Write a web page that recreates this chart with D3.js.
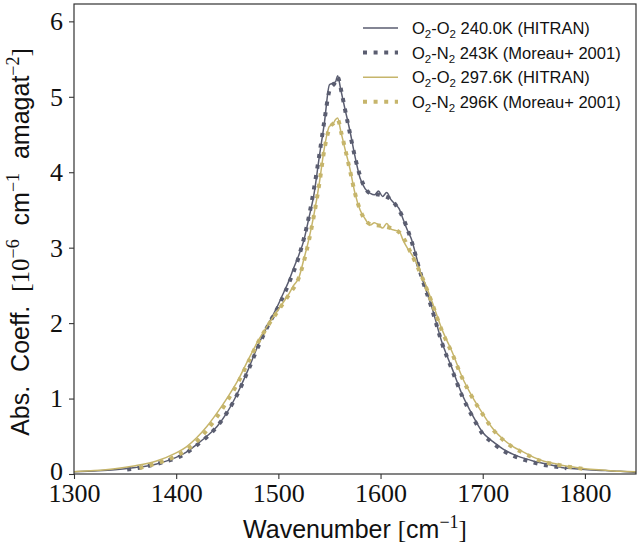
<!DOCTYPE html>
<html lang="en">
<head>
    <meta charset="UTF-8">
    <title>O2 CIA fundamental band</title>
    <script src="https://d3js.org/d3.v7.min.js"></script>
    <style>
        body { margin: 0; background: #fff; }
        .tick text { font-family: "Liberation Serif", serif; font-size: 26px; fill: #111; }
        .tick line { stroke: #333; stroke-width: 1.1; }
        .lbl { font-family: "Liberation Sans", sans-serif; font-size: 25px; fill: #111; }
        .leg { font-family: "Liberation Sans", sans-serif; font-size: 16.5px; fill: #111; }
    </style>
</head>
<body>
    <svg width="638" height="544"></svg>
    <script>
        // HITRAN grid (cm^-1), shared by both HITRAN curves
        const hitranWn = [1300, 1320, 1340, 1360, 1380, 1400, 1410, 1420, 1430, 1440, 1450, 1460, 1470, 1480, 1490,
            1500, 1505, 1510, 1515, 1520, 1525, 1530, 1535, 1540, 1545, 1550, 1553, 1556, 1558, 1561, 1565, 1570,
            1575, 1580, 1585, 1590, 1594, 1598, 1602, 1606, 1610, 1614, 1618, 1622, 1626, 1630, 1635, 1640, 1645,
            1650, 1660, 1670, 1680, 1690, 1700, 1710, 1720, 1730, 1740, 1750, 1760, 1770, 1780, 1790, 1800, 1820,
            1835, 1850];
        const hitran240 = [0.03, 0.04, 0.055, 0.085, 0.13, 0.22, 0.29, 0.39, 0.50, 0.63, 0.82, 1.07, 1.37, 1.70, 1.98,
            2.25, 2.40, 2.55, 2.73, 2.90, 3.10, 3.40, 3.72, 4.20, 4.65, 5.16, 5.18, 5.20, 5.28, 5.10, 4.85, 4.55,
            4.21, 3.92, 3.78, 3.72, 3.70, 3.75, 3.68, 3.73, 3.64, 3.58, 3.52, 3.38, 3.24, 3.12, 2.88, 2.62, 2.42,
            2.22, 1.75, 1.40, 1.05, 0.78, 0.55, 0.43, 0.33, 0.26, 0.21, 0.17, 0.14, 0.11, 0.08, 0.07, 0.06, 0.045,
            0.035, 0.02];
        const hitran298 = [0.03, 0.045, 0.07, 0.11, 0.17, 0.28, 0.36, 0.48, 0.63, 0.81, 1.01, 1.23, 1.50, 1.76, 1.98,
            2.18, 2.28, 2.38, 2.50, 2.60, 2.85, 3.12, 3.45, 3.85, 4.32, 4.61, 4.63, 4.70, 4.72, 4.55, 4.32, 4.05,
            3.72, 3.50, 3.38, 3.30, 3.33, 3.30, 3.26, 3.32, 3.25, 3.23, 3.22, 3.10, 3.00, 2.92, 2.80, 2.64, 2.48,
            2.30, 1.92, 1.62, 1.28, 1.02, 0.80, 0.60, 0.46, 0.36, 0.29, 0.22, 0.17, 0.14, 0.11, 0.09, 0.07, 0.05,
            0.035, 0.03];

        // Moreau et al. 2001 O2-N2
        const moreau243Wn = [1352, 1360, 1370, 1380, 1390, 1400, 1410, 1420, 1430, 1440, 1450, 1460, 1470, 1480, 1490,
            1500, 1510, 1520, 1530, 1540, 1545, 1550, 1555, 1558, 1562, 1566, 1570, 1575, 1580, 1590, 1600, 1610,
            1620, 1630, 1640, 1650, 1660, 1670, 1680, 1690, 1700, 1710, 1720, 1730, 1740, 1750, 1760, 1770, 1782];
        const moreau243 = [0.06, 0.075, 0.10, 0.13, 0.17, 0.21, 0.28, 0.38, 0.49, 0.63, 0.82, 1.06, 1.36, 1.68, 1.97,
            2.22, 2.52, 2.88, 3.42, 4.22, 4.68, 5.08, 5.18, 5.26, 5.05, 4.78, 4.52, 4.20, 3.95, 3.72, 3.70, 3.64,
            3.45, 3.10, 2.62, 2.20, 1.74, 1.38, 1.03, 0.76, 0.53, 0.41, 0.31, 0.24, 0.19, 0.15, 0.12, 0.10, 0.075];
        const moreau296Wn = [1364, 1370, 1380, 1390, 1400, 1410, 1420, 1430, 1440, 1450, 1460, 1470, 1480, 1490, 1500,
            1510, 1520, 1530, 1540, 1545, 1550, 1555, 1558, 1562, 1566, 1570, 1575, 1580, 1590, 1600, 1610, 1620,
            1630, 1640, 1650, 1660, 1670, 1680, 1690, 1700, 1710, 1720, 1730, 1740, 1750, 1760, 1770, 1780, 1790, 1798];
        const moreau296 = [0.08, 0.10, 0.14, 0.18, 0.24, 0.32, 0.43, 0.58, 0.76, 0.97, 1.20, 1.47, 1.74, 1.97, 2.17,
            2.37, 2.60, 3.10, 3.84, 4.30, 4.58, 4.66, 4.70, 4.50, 4.27, 4.03, 3.72, 3.50, 3.31, 3.29, 3.26, 3.18,
            2.92, 2.63, 2.28, 1.90, 1.60, 1.27, 1.01, 0.79, 0.59, 0.45, 0.35, 0.28, 0.21, 0.16, 0.13, 0.105, 0.085, 0.07];

        const xTicks = [1300, 1400, 1500, 1600, 1700, 1800];
        const yTicks = [0, 1, 2, 3, 4, 5, 6];

        const darkCol = "#5a5d70";
        const tanCol = "#c6b56b";

        const series = [
            {name: "O2-O2", rest: " 240.0K (HITRAN)", wn: hitranWn, v: hitran240, color: darkCol, dotted: false},
            {name: "O2-N2", rest: " 243K (Moreau+ 2001)", wn: moreau243Wn, v: moreau243, color: darkCol, dotted: true},
            {name: "O2-O2", rest: " 297.6K (HITRAN)", wn: hitranWn, v: hitran298, color: tanCol, dotted: false},
            {name: "O2-N2", rest: " 296K (Moreau+ 2001)", wn: moreau296Wn, v: moreau296, color: tanCol, dotted: true}
        ];

        const margin = {top: 4, right: 2, bottom: 70, left: 74};
        const width = 638 - margin.left - margin.right;
        const height = 544 - margin.top - margin.bottom;

        const svg = d3.select("svg")
            .append("g")
            .attr("transform", `translate(${margin.left},${margin.top})`);

        const x = d3.scaleLinear().domain([1300, 1850]).range([0, width]);
        const y = d3.scaleLinear().domain([0, 6.23]).range([height, 0]);

        svg.append("defs").append("clipPath").attr("id", "clip")
            .append("rect").attr("width", width).attr("height", height);

        const line = d3.line()
            .x(d => x(d[0]))
            .y(d => y(d[1]))
            .curve(d3.curveMonotoneX);

        svg.append("g").attr("clip-path", "url(#clip)")
            .selectAll("path")
            .data(series)
            .join("path")
            .attr("d", s => line(s.wn.map((w, i) => [w, s.v[i]])))
            .attr("fill", "none")
            .attr("stroke", s => s.color)
            .attr("stroke-width", s => s.dotted ? 4 : 1.5)
            .attr("stroke-dasharray", s => s.dotted ? "4,6.6" : null);

        // axes
        const xAxis = svg.append("g")
            .attr("transform", `translate(0,${height})`)
            .call(d3.axisBottom(x).tickValues(xTicks).tickSize(5).tickPadding(5).tickFormat(d3.format("d")));
        xAxis.select(".domain").remove();

        const yAxis = svg.append("g")
            .call(d3.axisLeft(y).tickValues(yTicks).tickSize(5).tickPadding(6).tickFormat(d3.format("d")));
        yAxis.select(".domain").remove();
        yAxis.selectAll(".tick text").attr("dy", d => d === 0 ? "0.22em" : "0.32em");

        svg.append("rect")
            .attr("width", width).attr("height", height)
            .attr("fill", "none").attr("stroke", "#333").attr("stroke-width", 1.2);

        // x label
        const xl = svg.append("text").attr("class", "lbl")
            .attr("x", width / 2).attr("y", height + 64)
            .attr("text-anchor", "middle");
        xl.append("tspan").text("Wavenumber ");
        xl.append("tspan").attr("font-family", "Liberation Serif").text("[");
        xl.append("tspan").text("cm");
        xl.append("tspan").attr("font-family", "Liberation Serif").attr("font-size", 18).attr("dy", -10).text("\u22121");
        xl.append("tspan").attr("font-family", "Liberation Serif").attr("dy", 10).text("]");

        // y label
        const yl = svg.append("text").attr("class", "lbl")
            .attr("transform", `translate(${-45},${height / 2 + 3}) rotate(-90)`)
            .attr("text-anchor", "middle")
            .attr("xml:space", "preserve")
            .style("white-space", "pre");
        yl.append("tspan").text("Abs.  Coeff.  ");
        yl.append("tspan").attr("font-family", "Liberation Serif").text("[10");
        yl.append("tspan").attr("font-family", "Liberation Serif").attr("font-size", 18).attr("dy", -10).text("\u22126");
        yl.append("tspan").attr("dy", 10).text("  cm");
        yl.append("tspan").attr("font-family", "Liberation Serif").attr("font-size", 18).attr("dy", -10).text("\u22121");
        yl.append("tspan").attr("dy", 10).text("  amagat");
        yl.append("tspan").attr("font-family", "Liberation Serif").attr("font-size", 18).attr("dy", -10).text("\u22122");
        yl.append("tspan").attr("font-family", "Liberation Serif").attr("dy", 10).text("]");

        // legend
        const legend = svg.append("g").attr("transform", "translate(289,24)");
        const rows = legend.selectAll("g")
            .data(series)
            .join("g")
            .attr("transform", (d, i) => `translate(0,${i * 24.6})`);
        rows.append("line")
            .attr("x1", 0).attr("x2", 35).attr("y1", 0).attr("y2", 0)
            .attr("stroke", d => d.color)
            .attr("stroke-width", d => d.dotted ? 4 : 1.5)
            .attr("stroke-dasharray", d => d.dotted ? "4,6.6" : null);
        rows.each(function(d) {
            const t = d3.select(this).append("text").attr("class", "leg").attr("x", 49).attr("y", 6);
            const parts = d.name.split("-");
            t.append("tspan").text("O");
            t.append("tspan").attr("font-size", 11.5).attr("dy", 4).text("2");
            t.append("tspan").attr("dy", -4).text("-" + parts[1][0]);
            t.append("tspan").attr("font-size", 11.5).attr("dy", 4).text("2");
            t.append("tspan").attr("dy", -4).text(d.rest);
        });
    </script>
</body>
</html>
